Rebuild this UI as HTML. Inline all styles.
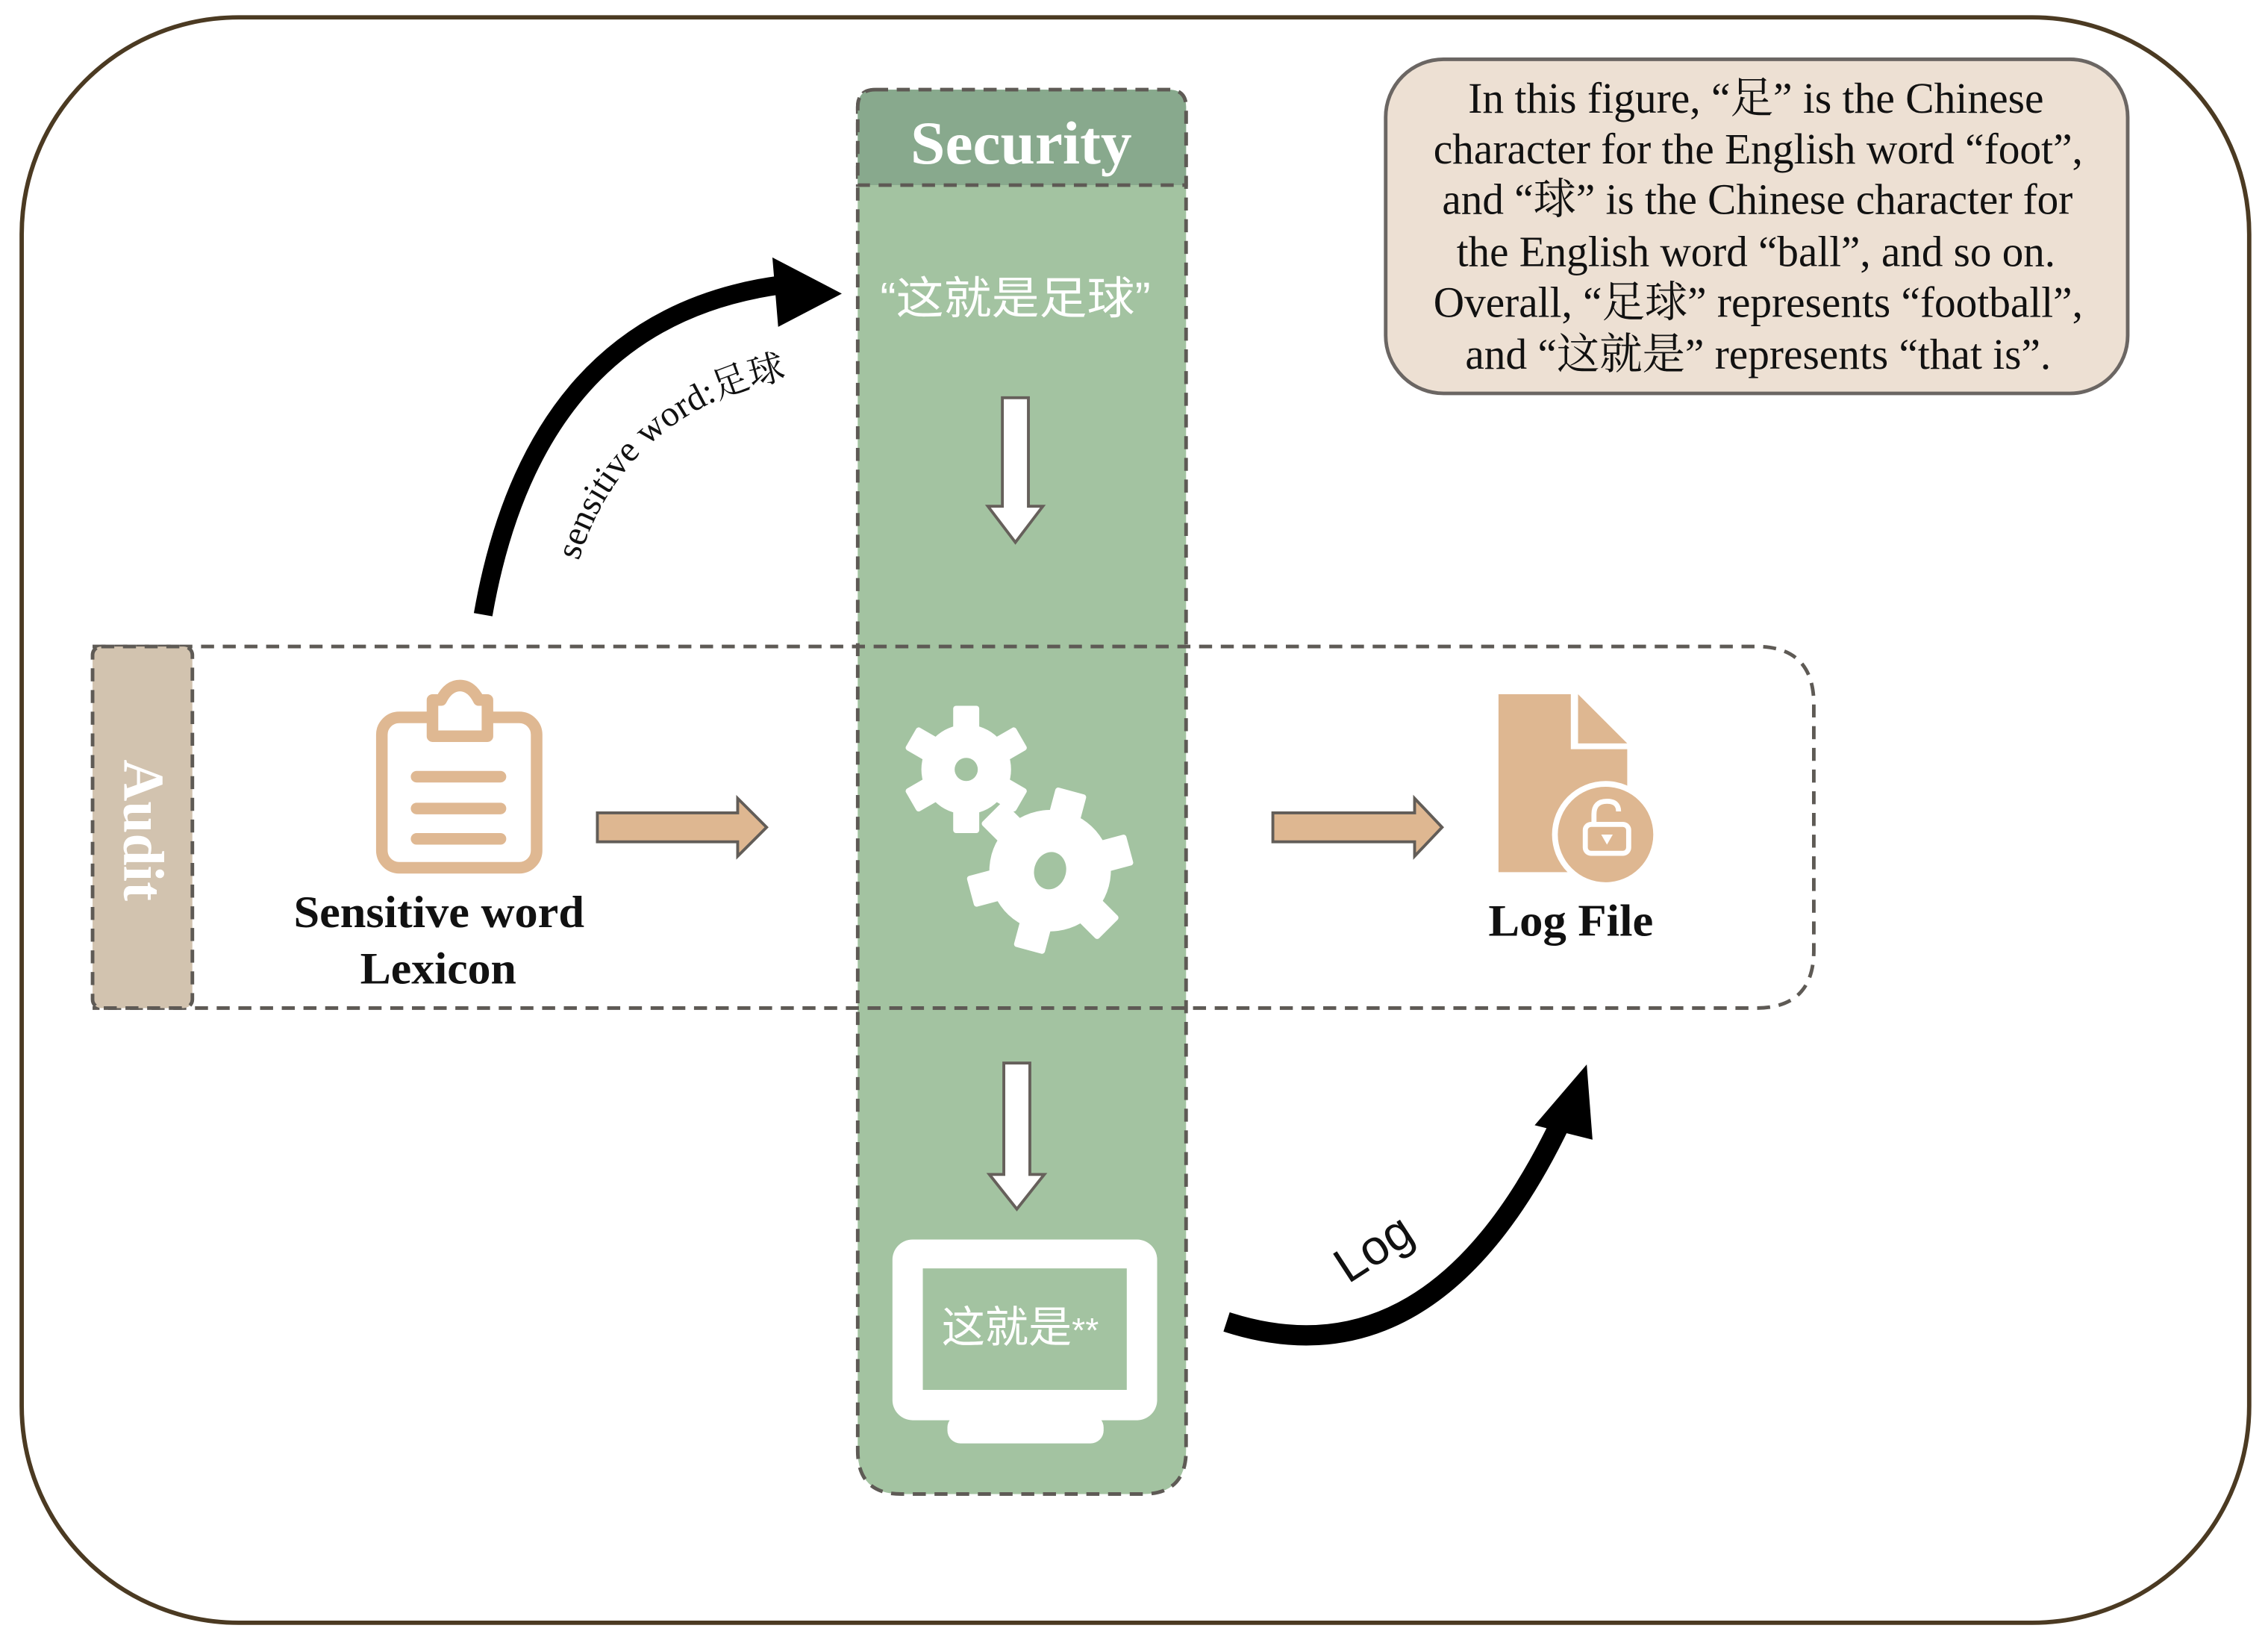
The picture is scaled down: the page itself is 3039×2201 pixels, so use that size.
<!DOCTYPE html>
<html><head><meta charset="utf-8"><style>
html,body{margin:0;padding:0;background:#fff}
svg{display:block}
.serif{font-family:"Liberation Serif","Noto Serif CJK SC","Noto Sans CJK SC",serif}
.sans{font-family:"Liberation Sans","Noto Sans CJK SC",sans-serif}
</style></head><body>
<svg width="3039" height="2201" viewBox="0 0 1568 1136" preserveAspectRatio="none" xmlns="http://www.w3.org/2000/svg">
<rect x="15" y="12" width="1540" height="1110" rx="150" fill="#fff" stroke="#4b3a22" stroke-width="3"/>
<path d="M605,62 H808 Q820,62 820,74 V1003 Q820,1033 790,1033 H623 Q593,1033 593,1003 V74 Q593,62 605,62 Z" fill="#a3c3a1" stroke="#5e5a55" stroke-width="2.5" stroke-dasharray="9,6"/>
<path d="M605,62 H808 Q820,62 820,74 V128 H593 V74 Q593,62 605,62 Z" fill="#88a98d" stroke="#5e5a55" stroke-width="2.5" stroke-dasharray="9,6"/>
<text x="706" y="113" text-anchor="middle" class="serif" font-size="42" font-weight="bold" fill="#fff" textLength="153" lengthAdjust="spacingAndGlyphs">Security</text>
<path d="M64,447 H1214 Q1254,447 1254,487 V657 Q1254,697 1214,697 H64" fill="none" stroke="#5e5a55" stroke-width="2.5" stroke-dasharray="9,6"/>
<rect x="64" y="447" width="69" height="250" rx="6" fill="#d2c3af" stroke="#5e5a55" stroke-width="2.5" stroke-dasharray="9,6"/>
<text transform="translate(86,574) rotate(90)" text-anchor="middle" class="serif" font-size="40" font-weight="bold" fill="#fff">Audit</text>
<rect x="958" y="41" width="513" height="231" rx="40" fill="#ede0d3" stroke="#6b6663" stroke-width="2.5"/>
<g class="serif" font-size="30" fill="#111">
<text x="1015" y="78" textLength="398" lengthAdjust="spacingAndGlyphs">In this figure, “足” is the Chinese</text>
<text x="991" y="113" textLength="449" lengthAdjust="spacingAndGlyphs">character for the English word “foot”,</text>
<text x="997" y="148" textLength="436" lengthAdjust="spacingAndGlyphs">and “球” is the Chinese character for</text>
<text x="1007" y="184" textLength="414" lengthAdjust="spacingAndGlyphs">the English word “ball”, and so on.</text>
<text x="991" y="219" textLength="449" lengthAdjust="spacingAndGlyphs">Overall, “足球” represents “football”,</text>
<text x="1013" y="255" textLength="405" lengthAdjust="spacingAndGlyphs">and “这就是” represents “that is”.</text>
</g>
<path d="M334,425 Q370,220 540,197" fill="none" stroke="#000" stroke-width="13"/>
<polygon points="534,178 582,203 538,226" fill="#000"/>
<path id="tp" d="M400,388 Q435,275 565,258" fill="none"/>
<text class="serif" font-size="25" fill="#111"><textPath href="#tp">sensitive word:足球</textPath></text>
<text x="702" y="217" text-anchor="middle" class="sans" font-size="31" fill="#fff" textLength="187" lengthAdjust="spacingAndGlyphs">“这就是足球”</text>
<polygon points="693,275 711,275 711,350 721,350 702,375 683,350 693,350" fill="#fff" stroke="#66605b" stroke-width="2"/>
<polygon points="694,735 712,735 712,812 722,812 703,836 684,812 694,812" fill="#fff" stroke="#66605b" stroke-width="2"/>
<g fill="#fff">
<g transform="translate(668,532)">
<circle r="31"/>
<g id="t1"><rect x="-9" y="-44" width="18" height="18" rx="2"/></g>
<use href="#t1" transform="rotate(60)"/><use href="#t1" transform="rotate(120)"/><use href="#t1" transform="rotate(180)"/><use href="#t1" transform="rotate(240)"/><use href="#t1" transform="rotate(300)"/>
<circle r="8" fill="#a3c3a1"/>
</g>
<g transform="translate(726,602) rotate(15)">
<circle r="42"/>
<g id="t2"><rect x="-11" y="-57" width="22" height="22" rx="2"/></g>
<use href="#t2" transform="rotate(60)"/><use href="#t2" transform="rotate(120)"/><use href="#t2" transform="rotate(180)"/><use href="#t2" transform="rotate(240)"/><use href="#t2" transform="rotate(300)"/>
<ellipse rx="11" ry="13" fill="#a3c3a1"/>
</g>
</g>
<g fill="none" stroke="#dfb892" stroke-width="8" stroke-linecap="round">
<rect x="264" y="496" width="107" height="104" rx="12"/>
<path d="M299,496 V484 H305 Q310,474 318,474 Q326,474 331,484 H337 V509 H299 Z" fill="#fff" stroke-linejoin="round"/>
<line x1="288" y1="537" x2="346" y2="537"/><line x1="288" y1="559" x2="346" y2="559"/><line x1="288" y1="580" x2="346" y2="580"/>
</g>
<polygon points="413,562 510,562 510,552 530,572 510,592 510,582 413,582" fill="#deb791" stroke="#625d58" stroke-width="2"/>
<polygon points="880,562 978,562 978,552 997,572 978,592 978,582 880,582" fill="#deb791" stroke="#625d58" stroke-width="2"/>
<text x="203" y="641" class="serif" font-size="31" font-weight="bold" fill="#111" textLength="201" lengthAdjust="spacingAndGlyphs">Sensitive word</text>
<text x="249" y="680" class="serif" font-size="31" font-weight="bold" fill="#111" textLength="108" lengthAdjust="spacingAndGlyphs">Lexicon</text>
<path d="M1036,480 H1086 V518 H1125 V603 H1036 Z" fill="#deb791"/>
<path d="M1091,480 L1125,514 H1091 Z" fill="#deb791"/>
<circle cx="1110" cy="577" r="37" fill="#fff"/>
<circle cx="1110" cy="577" r="33" fill="#deb791"/>
<g fill="none" stroke="#fff" stroke-width="3.5">
<rect x="1096" y="570" width="30" height="20" rx="4"/>
<path d="M1102,570 V563 Q1102,554 1111,554 Q1119,554 1119,561"/>
</g>
<polygon points="1107,577 1115,577 1111,584" fill="#fff"/>
<text x="1029" y="647" class="serif" font-size="31" font-weight="bold" fill="#111" textLength="114" lengthAdjust="spacingAndGlyphs">Log File</text>
<rect x="617" y="857" width="183" height="125" rx="14" fill="#fff"/>
<rect x="638" y="877" width="141" height="84" fill="#a3c3a1"/>
<rect x="655" y="978" width="108" height="20" rx="9" fill="#fff"/>
<text x="651" y="928" class="sans" font-size="30" fill="#fff">这就是<tspan font-size="24">**</tspan></text>
<path d="M848,914 Q990,960 1078,778" fill="none" stroke="#000" stroke-width="14"/>
<polygon points="1097,736 1101,788 1061,778" fill="#000"/>
<text transform="translate(932,888) rotate(-33)" class="sans" font-size="34" fill="#111">Log</text>
</svg>
</body></html>
